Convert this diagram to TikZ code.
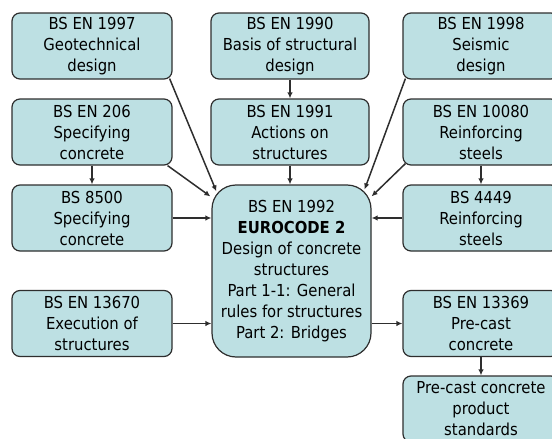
\documentclass[tikz,border=0pt]{standalone}
\usepackage{fontspec}
\setmainfont{DejaVu Sans Condensed}
\usetikzlibrary{arrows.meta,calc}
\definecolor{boxfill}{HTML}{BDE0E3}
\definecolor{boxline}{HTML}{2E2E2E}
\begin{document}
\begin{tikzpicture}[x=1pt,y=-1pt,
  box/.style={draw=boxline,line width=1.2pt,fill=boxfill,rounded corners=8pt,
    minimum width=160pt,minimum height=66pt,inner sep=0pt,align=center,
    font=\fontsize{16.5}{21}\selectfont},
  conn/.style={draw=boxline,line width=1.5pt,-{Latex[length=6pt,width=5.5pt]}}]
\useasboundingbox (0,0) rectangle (552,439);
% left column
\node[box] (g) at (92,46) {BS EN 1997\\Geotechnical\\design};
\node[box] (s206) at (92,132) {BS EN 206\\Specifying\\concrete};
\node[box] (s8500) at (92,218) {BS 8500\\Specifying\\concrete};
\node[box] (ex) at (92,323.5) {BS EN 13670\\Execution of\\structures};
% middle column
\node[box,minimum width=158pt] (b1990) at (290,46) {BS EN 1990\\Basis of structural\\design};
\node[box,minimum width=158pt] (b1991) at (290,132) {BS EN 1991\\Actions on\\structures};
\node[box,minimum width=159pt,minimum height=172pt,rounded corners=24pt] (c) at (291.5,271)
  {BS EN 1992\\\textbf{EUROCODE 2}\\Design of concrete\\structures\\Part 1-1: General\\rules for structures\\Part 2: Bridges};
% right column
\node[box,minimum width=156pt] (seis) at (481,46) {BS EN 1998\\Seismic\\design};
\node[box,minimum width=156pt] (r10080) at (481,132) {BS EN 10080\\Reinforcing\\steels};
\node[box,minimum width=156pt] (r4449) at (481,218) {BS 4449\\Reinforcing\\steels};
\node[box,minimum width=156pt] (pc) at (481,323.5) {BS EN 13369\\Pre-cast\\concrete};
\node[box,minimum width=156pt] (pcp) at (481,409) {Pre-cast concrete\\product\\standards};
% connectors
\draw[conn] ([shift={(-3,-1)}]g.south east) -- ([shift={(5,7)}]c.north west);
\draw[conn] ([shift={(-5,0)}]s206.south east) -- ([shift={(-1,12)}]c.north west);
\draw[conn] (s206.south) -- (s8500.north);
\draw[conn] (s8500.east) -- (s8500.east -| c.west);
\draw[conn] (b1990.south) -- (b1991.north);
\draw[conn] (b1991.south) -- (b1991.south |- c.north);
\draw[conn] ([shift={(3,-1)}]seis.south west) -- ([shift={(-7,5)}]c.north east);
\draw[conn] ([shift={(3,-2)}]r10080.south west) -- ([shift={(0,12)}]c.north east);
\draw[conn] (r10080.south) -- (r4449.north);
\draw[conn] (r4449.west) -- (r4449.west -| c.east);
\draw[conn] (ex.east) -- (ex.east -| c.west);
\draw[conn] (c.east |- pc.west) -- (pc.west);
\draw[conn] (pc.south) -- (pcp.north);
\end{tikzpicture}
\end{document}
